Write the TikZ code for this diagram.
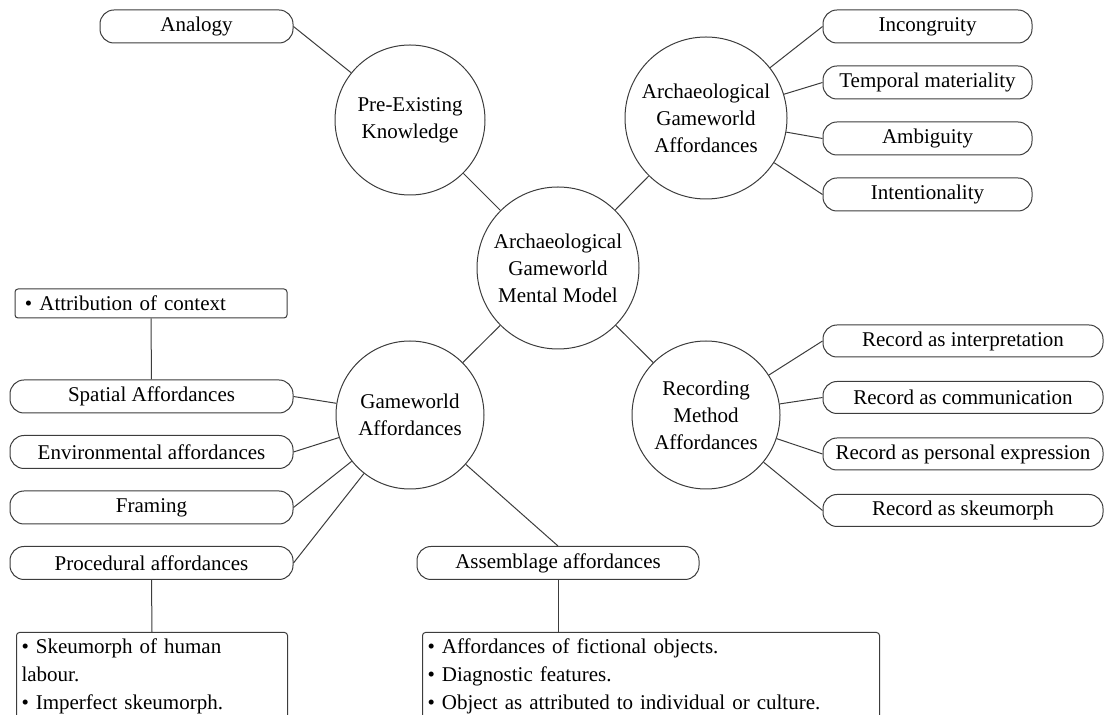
\documentclass[tikz,border=0pt]{standalone}
\usepackage{fontspec}
\setmainfont{Liberation Serif}
\usetikzlibrary{positioning}
\definecolor{lineGray}{HTML}{3C3C3C}

\begin{document}
\begin{tikzpicture}[
    x=0.5pt, y=-0.5pt,
    font=\fontsize{10.5}{13.5}\selectfont,
    hub/.style={circle, draw=lineGray, line width=0.5pt, inner sep=0pt, align=center},
    pill/.style={draw=lineGray, line width=0.5pt, rounded corners=7pt,
      minimum height=16.5pt, inner sep=0pt, align=center},
    note/.style={draw=lineGray, line width=0.5pt, rounded corners=1.5pt,
      font=\fontsize{10.5}{14}\selectfont, align=left, inner xsep=2.5pt,
      inner ysep=3pt, anchor=north west},
    link/.style={draw=lineGray, line width=0.5pt},
  ]
\useasboundingbox (0,0) rectangle (1104,715);
\clip (0,0) rectangle (1104,715);

% ===== hubs =====
\node[hub, minimum size=75pt] (preKnow) at (410,120) {Pre-Existing\\Knowledge};
\node[hub, minimum size=81pt] (archAff) at (706,118) {Archaeological\\Gameworld\\Affordances};
\node[hub, minimum size=81pt] (mental) at (558,268) {Archaeological\\Gameworld\\Mental Model};
\node[hub, minimum size=74pt] (gameAff) at (410,415) {Gameworld\\Affordances};
\node[hub, minimum size=74pt] (recAff) at (706,415) {Recording\\Method\\Affordances};

% ===== top left =====
\node[pill, minimum width=96.5pt] (analogy) at (196.5,26.5) {Analogy};

% ===== top right =====
\node[pill, minimum width=104.5pt] (incong) at (927.5,26.5) {Incongruity};
\node[pill, minimum width=104.5pt, below=11pt of incong] (tempMat) {Temporal materiality};
\node[pill, minimum width=104.5pt, below=11pt of tempMat] (ambig) {Ambiguity};
\node[pill, minimum width=104.5pt, below=11pt of ambig] (intent) {Intentionality};

% ===== bottom right =====
\node[pill, minimum width=140pt, minimum height=16pt] (recInterp) at (963,341) {Record as interpretation};
\node[pill, minimum width=140pt, minimum height=16pt, below=11.75pt of recInterp] (recComm) {Record as communication};
\node[pill, minimum width=140pt, minimum height=16pt, below=11.75pt of recComm] (recPers) {Record as personal expression};
\node[pill, minimum width=140pt, minimum height=16pt, below=11.75pt of recPers] (recSkeu) {Record as skeumorph};

% ===== left =====
\node[draw=lineGray, line width=0.5pt, rounded corners=1.5pt, text width=126pt,
  inner xsep=5pt, minimum height=14.5pt, inner ysep=0pt, align=left] (attrib) at (151,303.5)
  {\textbullet\ Attribution of context};
\node[pill, minimum width=141.5pt] (spatial) at (151.5,396.5) {Spatial Affordances};
\node[pill, minimum width=141.5pt, below=10.75pt of spatial] (environ) {Environmental affordances};
\node[pill, minimum width=141.5pt, below=10.75pt of environ] (framing) {Framing};
\node[pill, minimum width=141.5pt, below=10.75pt of framing] (procAff) {Procedural affordances};

% ===== bottom =====
\node[pill, minimum width=141pt] (assem) at (558,563) {Assemblage affordances};
\node[note, text width=130.5pt] (procNote) at (16,632)
  {\textbullet\ Skeumorph of human\\labour.\\\textbullet\ Imperfect skeumorph.\\[2pt]};
\node[note, text width=223.5pt] (assemNote) at (422,632)
  {\textbullet\ Affordances of fictional objects.\\\textbullet\ Diagnostic features.\\\textbullet\ Object as attributed to individual or culture.\\[2pt]};

% Connectors
\draw[link] (analogy.east) -- (preKnow);
\draw[link] (preKnow) -- (mental);
\draw[link] (archAff) -- (mental);
\draw[link] (mental) -- (gameAff);
\draw[link] (mental) -- (recAff);
\foreach \b in {incong,tempMat,ambig,intent}
  \draw[link] (archAff) -- (\b.west);
\foreach \b in {recInterp,recComm,recPers,recSkeu}
  \draw[link] (recAff) -- (\b.west);
\foreach \b in {spatial,environ,framing,procAff}
  \draw[link] (\b.east) -- (gameAff);
\draw[link] (gameAff) -- (assem.north);
\draw[link] (attrib) -- (spatial);
\draw[link] (procAff.south) -- (procNote.north);
\draw[link] (assem.south) -- (assem.south |- assemNote.north);

\end{tikzpicture}
\end{document}
